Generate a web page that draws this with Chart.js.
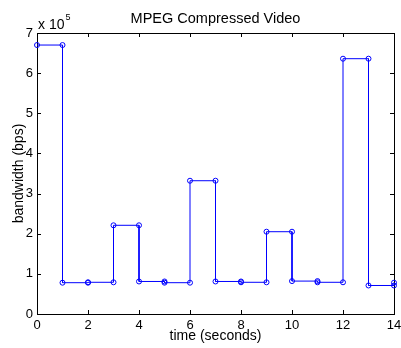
<!DOCTYPE html>
<html>
<head>
<meta charset="utf-8">
<style>
  html, body { margin: 0; padding: 0; background: #fff; }
  #wrap { width: 401px; height: 348px; }
</style>
<script src="https://cdn.jsdelivr.net/npm/chart.js@4.4.1/dist/chart.umd.min.js"></script>
</head>
<body>
<div id="wrap"><canvas id="mpeg-chart"></canvas></div>
<script>
// start of each one-second interval and the rate measured over it (bps)
const startTimes = [0, 1, 2, 3, 4, 5, 6, 7, 8, 9, 10, 11, 12, 13, 14];
const rates = [670000, 78000, 79000, 221000, 81000, 78000, 332000, 81000,
               79000, 205000, 82000, 79000, 636000, 71000, 78000];
const xTicks = [0, 2, 4, 6, 8, 10, 12, 14];
const yTicks = [0, 1, 2, 3, 4, 5, 6, 7];   // x 10^5

const font = '"Liberation Sans", Arial, Helvetica, sans-serif';
const xMax = 14;

// each interval becomes a flat segment with a marker at both ends
let stepPoints = [];
for (let i = 0; i < startTimes.length; i++) {
    stepPoints.push({x: startTimes[i], y: rates[i]});
    if (startTimes[i] + 1 <= xMax) {
        stepPoints.push({x: startTimes[i] + 1, y: rates[i]});
    }
}

// box around the plot, inward ticks, and the x 10^5 factor
const matlabAxes = {
    id: 'matlabAxes',
    beforeDatasetsDraw(chart) {
        const {ctx, chartArea: a, scales: {x, y}} = chart;
        ctx.save();
        ctx.strokeStyle = '#000';
        ctx.lineWidth = 1;
        ctx.strokeRect(a.left + 0.5, a.top + 0.5, a.right - a.left, a.bottom - a.top);
        ctx.beginPath();
        xTicks.forEach(v => {
            const px = Math.round(x.getPixelForValue(v)) + 0.5;
            ctx.moveTo(px, a.bottom); ctx.lineTo(px, a.bottom - 4);
            ctx.moveTo(px, a.top); ctx.lineTo(px, a.top + 4);
        });
        yTicks.forEach(v => {
            const py = Math.round(y.getPixelForValue(v * 1e5)) + 0.5;
            ctx.moveTo(a.left, py); ctx.lineTo(a.left + 4, py);
            ctx.moveTo(a.right, py); ctx.lineTo(a.right - 4, py);
        });
        ctx.stroke();

        ctx.fillStyle = '#000';
        ctx.textBaseline = 'alphabetic';
        ctx.textAlign = 'left';
        ctx.font = '14px ' + font;
        ctx.fillText('x 10', a.left + 1, a.top - 4);
        const w = ctx.measureText('x 10').width;
        ctx.font = '9px ' + font;
        ctx.fillText('5', a.left + 2 + w, a.top - 13);
        ctx.restore();
    }
};

new Chart(document.getElementById('mpeg-chart'), {
    type: 'line',
    data: {
        datasets: [{
            data: stepPoints,
            borderColor: 'rgb(0,0,255)',
            borderWidth: 1,
            tension: 0,
            pointStyle: 'circle',
            pointRadius: 2.5,
            pointBorderWidth: 1,
            pointBorderColor: 'rgb(0,0,255)',
            pointBackgroundColor: 'rgba(0,0,0,0)',
            clip: false
        }]
    },
    options: {
        responsive: true,
        maintainAspectRatio: false,
        animation: false,
        events: [],
        layout: {padding: {left: 0, right: 7, top: 0, bottom: 0}},
        plugins: {
            legend: {display: false},
            tooltip: {enabled: false},
            title: {
                display: true,
                fullSize: false,
                text: 'MPEG Compressed Video',
                color: '#000',
                font: {family: font, size: 14.5, weight: 'normal'},
                padding: {top: 10.5, bottom: 5.1}
            }
        },
        scales: {
            x: {
                type: 'linear',
                min: 0,
                max: xMax,
                afterBuildTicks: s => { s.ticks = xTicks.map(v => ({value: v})); },
                afterFit: s => { s.height = 34; s.paddingLeft = 0; s.paddingRight = 0; },
                grid: {display: false, drawTicks: false},
                border: {display: false},
                ticks: {color: '#000', font: {family: font, size: 13}, padding: 4, maxRotation: 0},
                title: {
                    display: true,
                    text: 'time (seconds)',
                    color: '#000',
                    font: {family: font, size: 14},
                    padding: {top: 0, bottom: 3}
                }
            },
            y: {
                min: 0,
                max: 700000,
                afterBuildTicks: s => { s.ticks = yTicks.map(v => ({value: v * 1e5})); },
                afterFit: s => { s.width = 37; s.paddingTop = 0; s.paddingBottom = 0; },
                grid: {display: false, drawTicks: false},
                border: {display: false},
                ticks: {
                    color: '#000',
                    font: {family: font, size: 13},
                    padding: 4,
                    callback: v => v / 1e5
                },
                title: {
                    display: true,
                    text: 'bandwidth (bps)',
                    color: '#000',
                    font: {family: font, size: 14},
                    padding: {top: 11, bottom: 0}
                }
            }
        }
    },
    plugins: [matlabAxes]
});
</script>
</body>
</html>
